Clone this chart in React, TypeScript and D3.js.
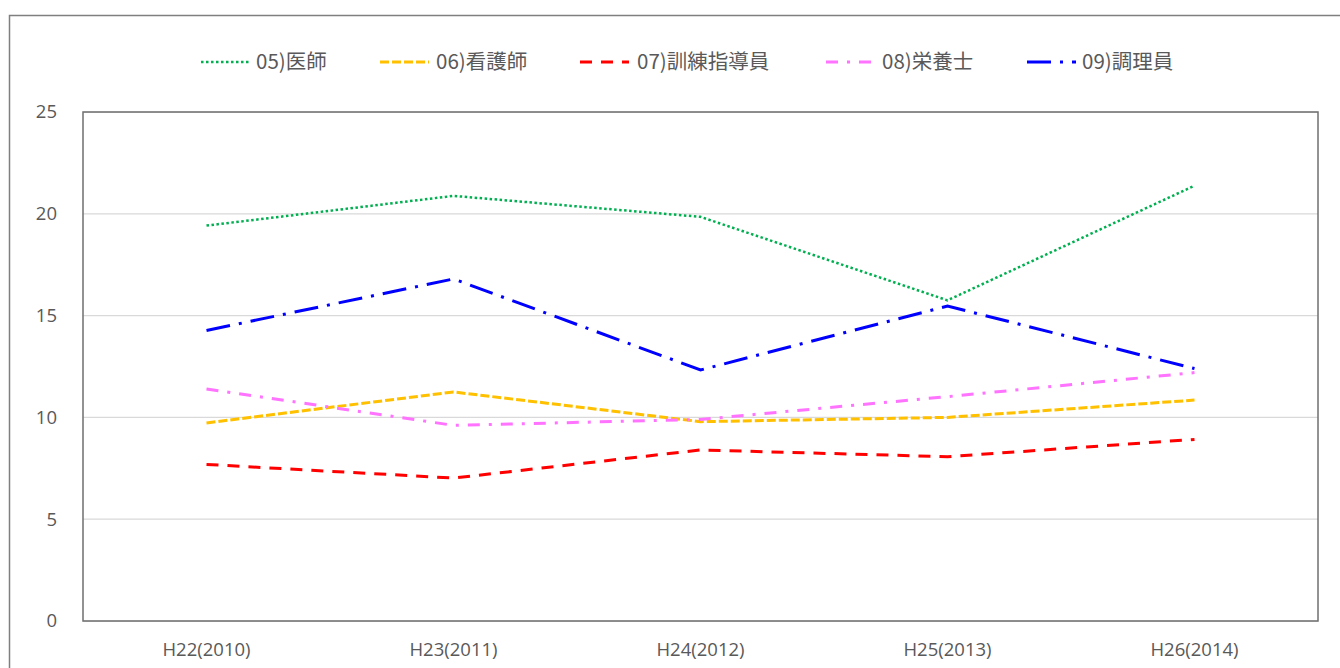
import * as d3 from "d3";

// categories (fiscal years)
const years = ["H22(2010)", "H23(2011)", "H24(2012)", "H25(2013)", "H26(2014)"];

// series values
const doctor = [19.42, 20.88, 19.85, 15.75, 21.38];
const nurse = [9.73, 11.25, 9.79, 10.0, 10.85];
const trainer = [7.69, 7.02, 8.4, 8.07, 8.92];
const dietitian = [11.4, 9.61, 9.9, 11.02, 12.2];
const cook = [14.27, 16.8, 12.33, 15.47, 12.4];

const seriesNames = ["05)医師", "06)看護師", "07)訓練指導員", "08)栄養士", "09)調理員"];
const yTicks = [0, 5, 10, 15, 20, 25];

const seriesStyle = [
  { color: "#00B050", dash: "2.5 2.5", width: 2.5 },
  { color: "#FFC000", dash: "9 3", width: 3 },
  { color: "#FF0000", dash: "12 9", width: 3 },
  { color: "#FF73FF", dash: "12 9 3 9", width: 3 },
  { color: "#0000FF", dash: "24 9 3 9", width: 3 },
];
// legend layout: start of sample line, start of label
const legendPos = [
  [201, 256],
  [380, 436],
  [580, 637],
  [826, 882],
  [1027, 1082],
];

export default function App() {
  const width = 1340,
    height = 668;
  const plot = { left: 83, right: 1318, top: 112, bottom: 621 };
  const axisFont = "'Open Sans', 'Noto Sans', sans-serif";
  const cjkFont = "'Noto Sans CJK JP', 'Noto Sans', sans-serif";
  const textColor = "#595959";

  const xScale = d3.scaleBand().domain(years).range([plot.left, plot.right]);
  const yScale = d3.scaleLinear().domain([0, 25]).range([plot.bottom, plot.top]);
  const cx = (c: string) => (xScale(c) as number) + xScale.bandwidth() / 2;

  const series = [doctor, nurse, trainer, dietitian, cook];
  const line = d3
    .line<number>()
    .x((_, i) => cx(years[i]))
    .y((d) => yScale(d));

  return (
    <svg
      width={width}
      height={height}
      style={{ position: "absolute", left: 0, top: 0, background: "white" }}
    >
      {/* outer chart frame, runs off the picture */}
      <rect x={9.5} y={15.5} width={1400} height={720} fill="white" stroke="#7f7f7f" strokeWidth={1.5} />

      {/* gridlines */}
      {yTicks.map((t) => (
        <line
          key={"g" + t}
          x1={plot.left}
          x2={plot.right}
          y1={yScale(t)}
          y2={yScale(t)}
          stroke="#d9d9d9"
          strokeWidth={1.25}
        />
      ))}
      <rect
        x={plot.left}
        y={plot.top}
        width={plot.right - plot.left}
        height={plot.bottom - plot.top}
        fill="none"
        stroke="#6f6f6f"
        strokeWidth={1.5}
      />

      {/* y tick labels */}
      {yTicks.map((t) => (
        <text
          key={"y" + t}
          x={57}
          y={yScale(t)}
          dy="0.35em"
          textAnchor="end"
          fontFamily={axisFont}
          fontSize={18.5}
          fill={textColor}
        >
          {t}
        </text>
      ))}

      {/* x tick labels */}
      {years.map((c) => (
        <text
          key={c}
          x={cx(c)}
          y={656}
          textAnchor="middle"
          fontFamily={axisFont}
          fontSize={18.5}
          fill={textColor}
        >
          {c}
        </text>
      ))}

      {/* series lines */}
      {series.map((s, i) => (
        <path
          key={seriesNames[i]}
          d={line(s) as string}
          fill="none"
          stroke={seriesStyle[i].color}
          strokeWidth={seriesStyle[i].width}
          strokeDasharray={seriesStyle[i].dash}
        />
      ))}

      {/* legend */}
      {seriesNames.map((n, i) => (
        <g key={"l" + n}>
          <line
            x1={legendPos[i][0]}
            x2={legendPos[i][0] + 49}
            y1={62}
            y2={62}
            stroke={seriesStyle[i].color}
            strokeWidth={seriesStyle[i].width}
            strokeDasharray={seriesStyle[i].dash}
          />
          <text
            x={legendPos[i][1]}
            y={62}
            dy="0.35em"
            fontFamily={cjkFont}
            fontSize={20.5}
            fill={textColor}
          >
            {n}
          </text>
        </g>
      ))}
    </svg>
  );
}
